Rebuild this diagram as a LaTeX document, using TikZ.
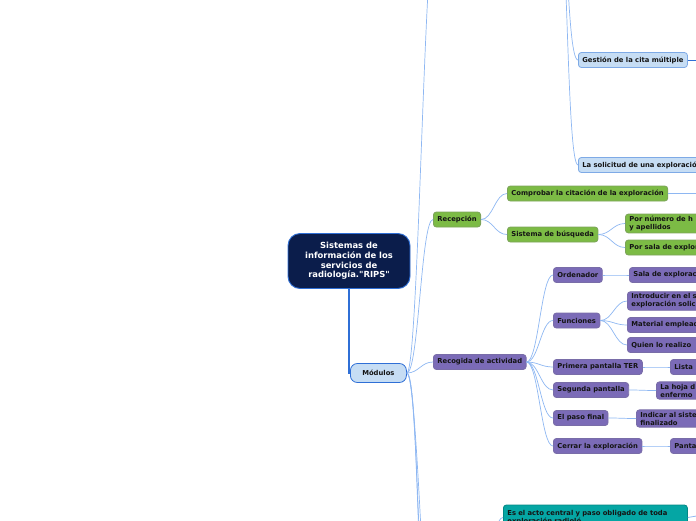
\documentclass[tikz,border=0pt]{standalone}
\usepackage{fontspec}
\setmainfont{DejaVu Sans}[Ligatures=TeXOff]
\usetikzlibrary{positioning,calc}
\definecolor{ink}{HTML}{141414}
\definecolor{navy}{HTML}{0B1D4B}
\definecolor{edgeblue}{HTML}{2F6FD6}
\definecolor{skyfill}{HTML}{C6DDF4}
\definecolor{skyline}{HTML}{7EAAE6}
\definecolor{leafgreen}{HTML}{7CBB45}
\definecolor{leafgreendark}{HTML}{5B8C32}
\definecolor{lilac}{HTML}{7B6BB7}
\definecolor{lilacdark}{HTML}{574892}
\definecolor{tealfill}{HTML}{05A6A4}
\definecolor{tealdark}{HTML}{038784}
\definecolor{linkblue}{HTML}{8EB7F2}
\tikzset{
  every node/.style={font=\fontsize{6.8}{8}\selectfont\bfseries,text=ink},
  topic/.style={draw,rounded corners=3pt,line width=0.8pt,inner xsep=4pt,inner ysep=2pt,minimum height=15pt,align=left,anchor=west},
  rootnode/.style={draw=edgeblue,fill=navy,rounded corners=12pt,line width=0.9pt,text=white,align=center,minimum width=122pt,minimum height=55pt,font=\fontsize{8.4}{9.8}\selectfont\bfseries},
  modnode/.style={topic,fill=skyfill,draw=edgeblue,rounded corners=7pt,minimum width=56pt,minimum height=19pt,align=center},
  skynode/.style={topic,fill=skyfill,draw=skyline},
  recnode/.style={topic,fill=leafgreen,draw=leafgreendark!80},
  actnode/.style={topic,fill=lilac,draw=lilacdark!80},
  tealnode/.style={topic,fill=tealfill,draw=tealdark},
  cutnode/.style={text width=160pt},
  link/.style={draw=linkblue,line width=0.7pt,to path={.. controls +(12,0) and +(-12,0) .. (\tikztotarget)}},
  mainlink/.style={draw=edgeblue,line width=1.4pt}
}
\begin{document}
\begin{tikzpicture}[x=1pt,y=-1pt]
  \useasboundingbox (0,0) rectangle (696,520);
  \clip (0,0) rectangle (696,520);

  % root and modules
  \node[rootnode] (root) at (349,261) {Sistemas de\\información de los\\servicios de\\radiología."RIPS"};
  \node[modnode] (modulos) at (350,373) {Módulos};

  % upper branch (parent above the frame)
  \coordinate (upper) at (556,-120);
  \node[skynode] (gestion) at (578,60) {Gestión de la cita múltiple};
  \node[skynode,cutnode] (solicitud) at (578,165) {La solicitud de una exploración};

  % reception
  \node[recnode] (recepcion) at (433,219.5) {Recepción};
  \node[recnode] (comprobar) at (507,193.5) {Comprobar la citación de la exploración};
  \node[recnode] (sistema) at (507,234.5) {Sistema de búsqueda};
  \node[recnode,cutnode] (porNumero) at (625,223.5) {Por número de h\\y apellidos};
  \node[recnode,cutnode] (porSala) at (625,247.5) {Por sala de explor};

  % activity
  \node[actnode] (recogida) at (433,362) {Recogida de actividad};
  \node[actnode] (ordenador) at (553,275) {Ordenador};
  \node[actnode,cutnode] (salaExpl) at (629,275) {Sala de exploraci};
  \node[actnode] (funciones) at (553,320.5) {Funciones};
  \node[actnode,cutnode] (introducir) at (627,301) {Introducir en el s\\exploración solic};
  \node[actnode,cutnode] (material) at (627,325) {Material emplead};
  \node[actnode,cutnode] (quien) at (627,345) {Quien lo realizo};
  \node[actnode] (primera) at (553,367) {Primera pantalla TER};
  \node[actnode,cutnode] (lista) at (670,367) {Lista};
  \node[actnode] (segunda) at (553,390) {Segunda pantalla};
  \node[actnode,cutnode] (hoja) at (656,390.5) {La hoja d\\enfermo};
  \node[actnode] (pasoFinal) at (553,418) {El paso final};
  \node[actnode,cutnode] (indicar) at (636,418.5) {Indicar al siste\\finalizado};
  \node[actnode] (cerrar) at (553,446) {Cerrar la exploración};
  \node[actnode,cutnode] (pantalla) at (670,446) {Panta};

  \node[tealnode,text width=176pt,minimum height=25pt] (acto) at (503,517.5) {Es el acto central y paso obligado de toda\\exploración radioló};

  % free ends outside the frame
  \coordinate (topEnd) at (436,-80);
  \coordinate (lowA) at (428,620);
  \coordinate (lowB) at (431,680);
  \coordinate (lowC) at (438,740);
  \coordinate (actoParent) at (478,600);
  \coordinate (comprobarEnd) at (720,193.5);
  \coordinate (gestionEnd) at (720,60);
  \coordinate (actoEnd) at (720,512);

  \draw[mainlink] (root.south) |- (modulos.west);

  \path[link] (modulos.east) to (topEnd);
  \path[link] (modulos.east) to (recepcion.west);
  \path[link] (modulos.east) to (recogida.west);
  \path[link] (modulos.east) to (lowA);
  \path[link] (modulos.east) to (lowB);
  \path[link] (modulos.east) to (lowC);
  \path[link] (actoParent) to (acto.west);

  \path[link] (upper) to (gestion.west);
  \path[link] (upper) to (solicitud.west);
  \draw[edgeblue,line width=0.8pt] (gestion.east) -- (gestionEnd);

  \path[link] (recepcion.east) to (comprobar.west);
  \path[link] (recepcion.east) to (sistema.west);
  \draw[linkblue,line width=0.8pt] (comprobar.east) -- (comprobarEnd);
  \path[link] (sistema.east) to (porNumero.west);
  \path[link] (sistema.east) to (porSala.west);

  \foreach \kid in {ordenador,funciones,primera,segunda,pasoFinal,cerrar}
    \path[link] (recogida.east) to (\kid.west);
  \path[link] (ordenador.east) to (salaExpl.west);
  \foreach \kid in {introducir,material,quien}
    \path[link] (funciones.east) to (\kid.west);
  \path[link] (primera.east) to (lista.west);
  \path[link] (segunda.east) to (hoja.west);
  \path[link] (pasoFinal.east) to (indicar.west);
  \path[link] (cerrar.east) to (pantalla.west);
  \draw[linkblue,line width=0.8pt] (acto.east) -- (actoEnd);
\end{tikzpicture}
\end{document}
